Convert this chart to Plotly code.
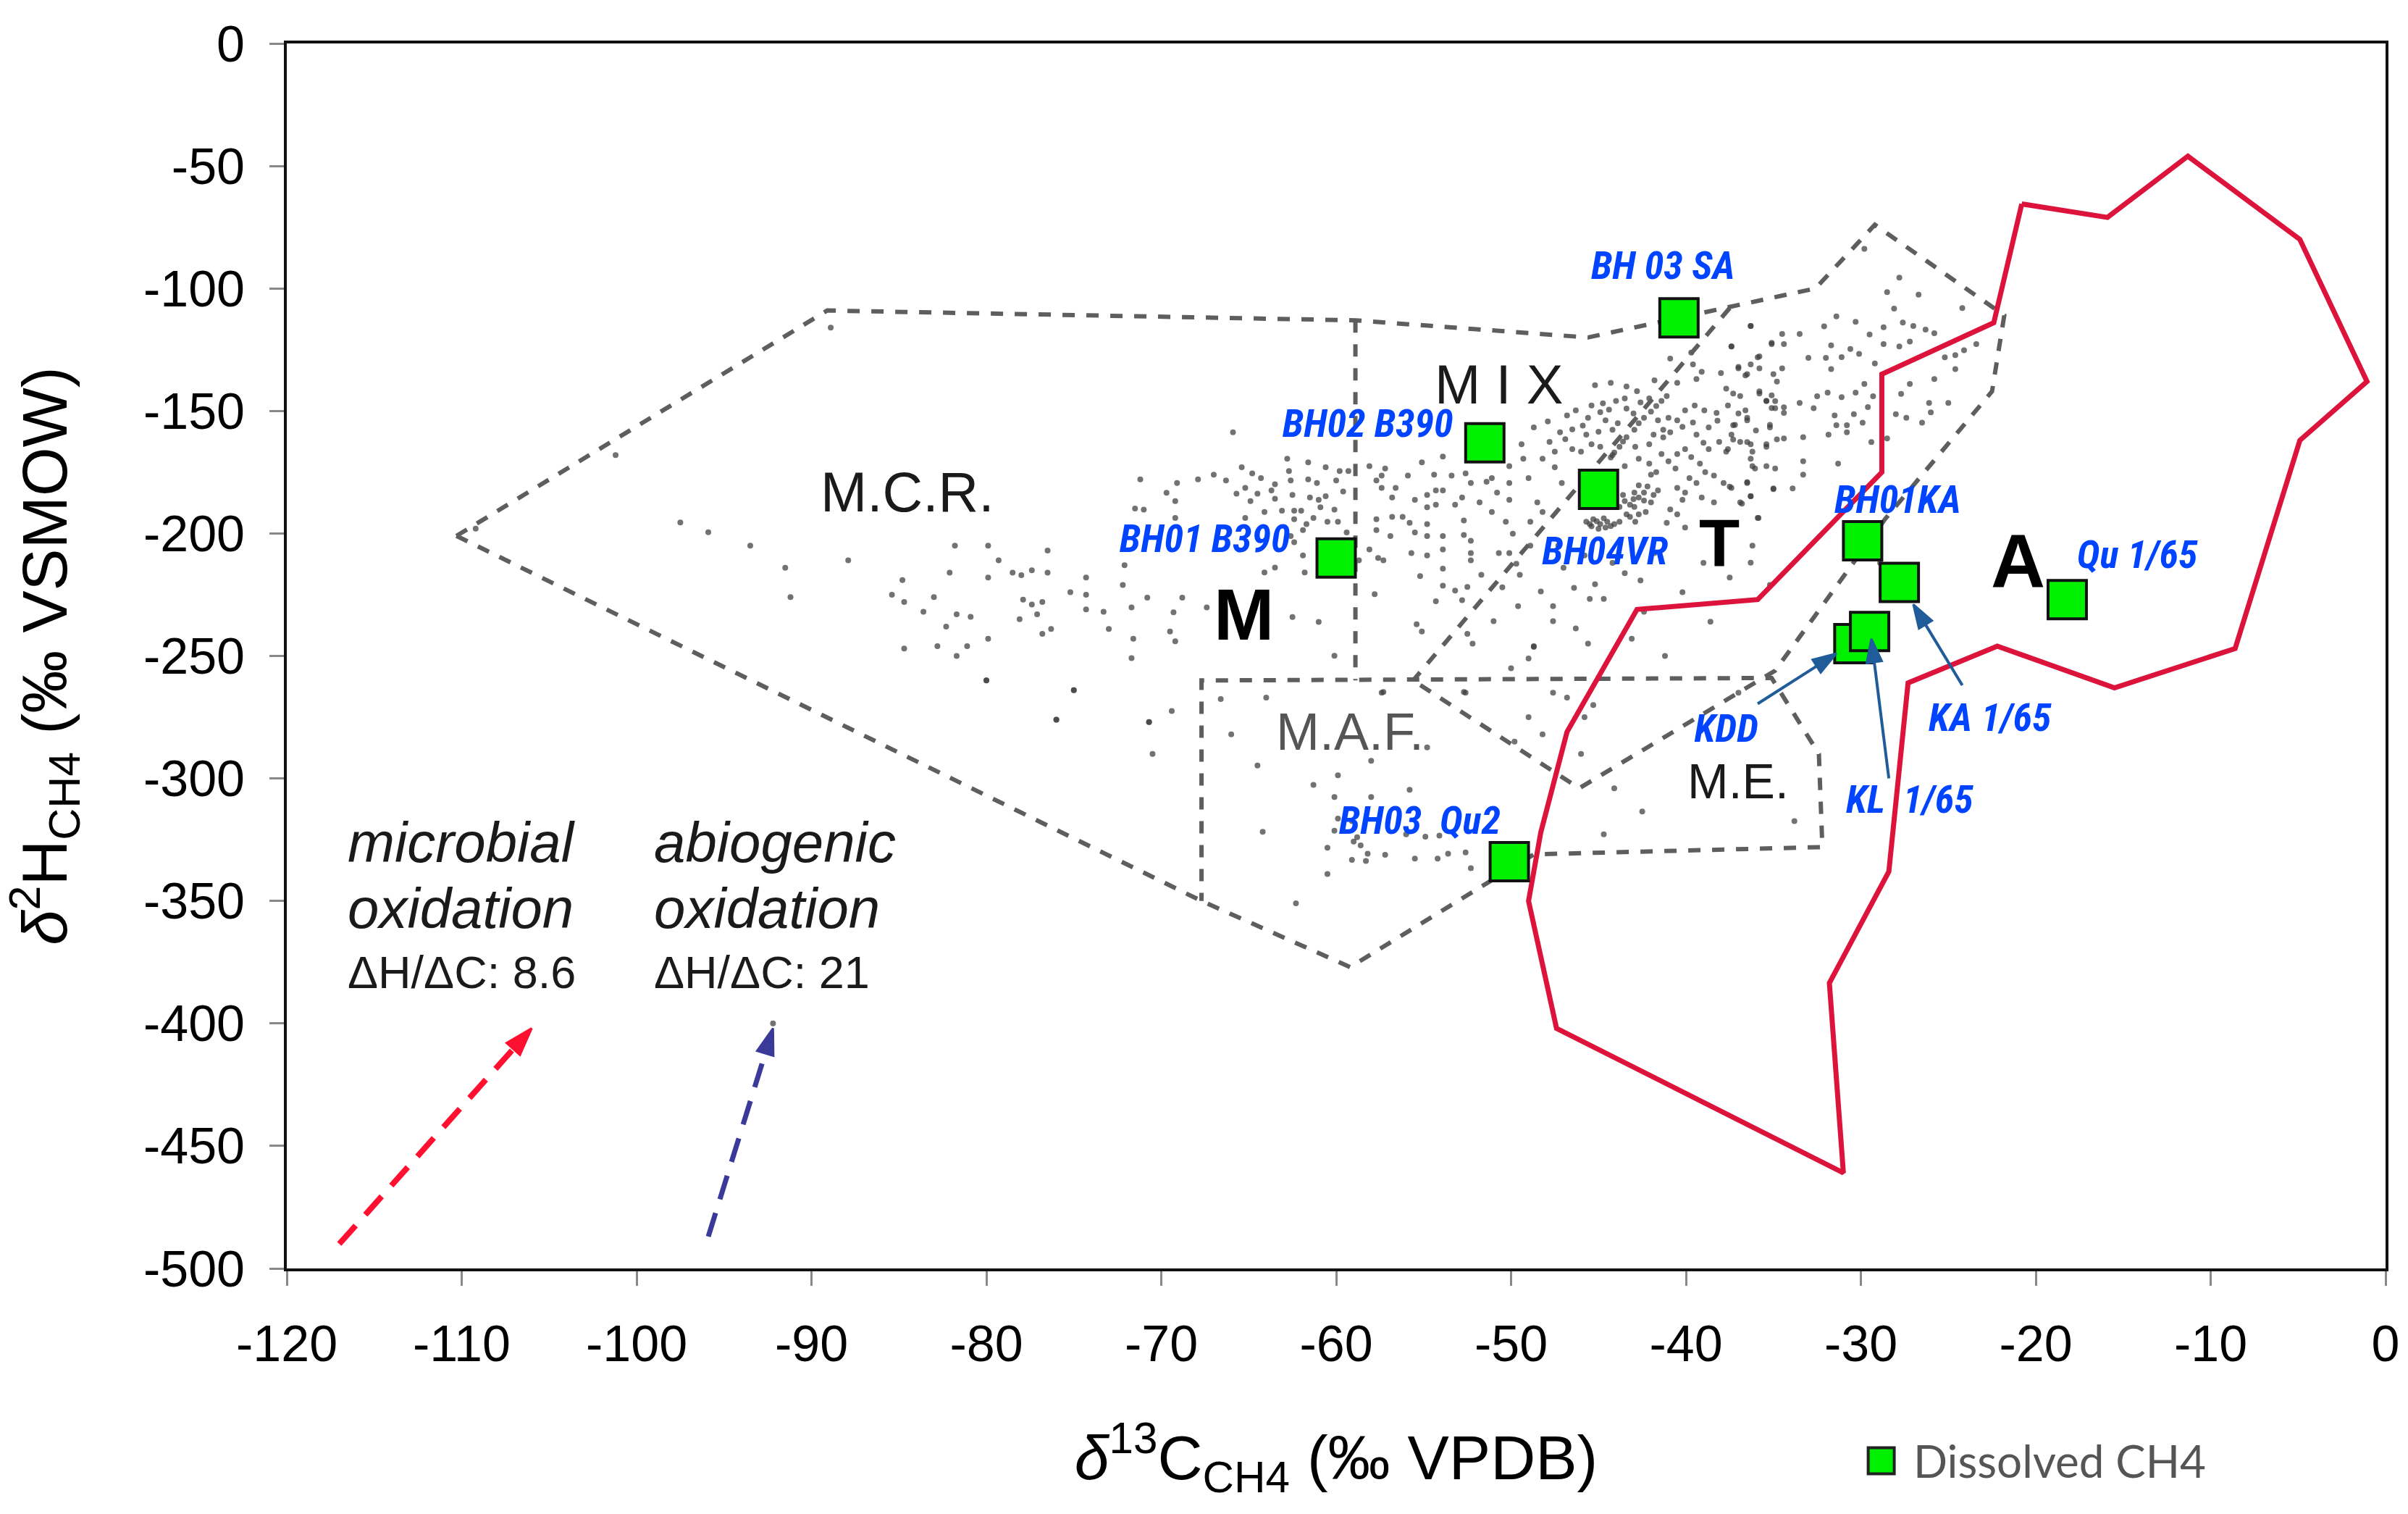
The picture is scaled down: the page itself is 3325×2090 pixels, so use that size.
import plotly.graph_objects as go

x_ticks = list(range(-120, 1, 10))
y_ticks = list(range(-500, 1, 50))

# dashed genetic fields
field_outer_x = [-110.3, -89.1, -58.9, -45.6, -32.6, -29.2, -21.8, -22.5, -28.6, -34.9, -46.1, -55.6]
field_outer_y = [-201, -109, -113, -120, -100, -74, -111, -142, -194, -256, -304, -260]
field_lower_x = [-110.3, -67.7, -59.2, -48.7, -32.2, -32.4, -35.1, -67.7, -67.7]
field_lower_y = [-201, -350, -377, -331, -328, -290, -259, -260, -350]
field_mid_x = [-58.9, -58.9]
field_mid_y = [-113, -260]
field_diag_x = [-37.5, -55.6]
field_diag_y = [-108, -260]

# abiotic outline
abiotic_x = [-20.8, -15.9, -11.3, -4.9, -1.06, -4.9, -8.6, -15.5, -22.2, -27.3, -28.4, -31.8, -31.0,
             -47.4, -49.0, -48.3, -46.8, -42.8, -35.9, -28.8, -28.8, -22.4, -20.8]
abiotic_y = [-65.5, -71, -46, -80, -138, -162, -247, -263, -246, -261, -338, -383.5, -461,
             -402, -350, -322, -281, -231, -227, -175, -135, -114, -65.5]

# dissolved CH4 samples
sample_names = ["BH 03 SA", "BH02 B390", "BH04VR", "BH01 B390", "BH03  Qu2", "BH01KA", "KA 1/65", "KDD", "KL  1/65", "Qu 1/65"]
sample_d13c = [-40.4, -51.5, -45.0, -60.0, -50.1, -29.9, -27.8, -30.4, -29.5, -18.2]
sample_d2h = [-112, -163, -182, -210, -334, -203, -220, -245, -240, -227]
label_x = [-41.3, -58.2, -44.6, -67.5, -55.2, -27.9, -22.6, -37.7, -27.2, -14.2]
label_y = [-90.5, -155, -207, -202, -317, -186, -275, -279.5, -308.5, -208.5]

# background literature samples
dots_west = [(-97.5,-195.5),(-95.9,-199.5),(-93.5,-205),(-91.5,-214),(-91.2,-226),(-87.9,-211),(-101.2,-168),(-88.9,-116),(-109.2,-198),
 (-81.8,-205),(-79.9,-205),(-76.5,-207),(-79.3,-211),(-82.1,-216),(-79.9,-218),(-84.8,-219),(-78.5,-216),(-78,-217),(-77.4,-215),(-76.5,-216),
 (-74.3,-218),(-72.1,-213),(-72.2,-221),(-75.2,-224),(-74.3,-225),(-85.4,-225),(-84.7,-228),(-83,-226),(-83.6,-232),(-77.9,-227),
 (-77.4,-229),(-76.8,-228),(-74.3,-231),(-73.3,-232),(-81.7,-233),(-80.9,-234),(-77.1,-233),(-78.1,-235),(-82.3,-238),(-73,-239),
 (-76.3,-239),(-76.8,-241),(-79.9,-243),(-84.7,-247),(-82.8,-246),(-81.1,-246),(-81.7,-250),(-80,-260),(-75,-264),(-76,-276),(-70.7,-277)]
dots_m = [(-65.9,-158.7),(-71.2,-177.9),(-69.7,-183.4),(-69.1,-179.4),(-67.9,-177.9),(-67,-176),(-66.3,-178.4),(-65.4,-173),(-64.8,-175.5),(-64.3,-177.4),(-62.8,-169.5),
 (-62.7,-174.5),(-62.6,-178.4),(-61.6,-171),(-60.6,-173),(-59.8,-174.5),(-59.3,-174.5),(-61.6,-177.9),(-61.1,-179.4),(-63.5,-179.9),(-63.7,-182.4),(-65.2,-181.4),(-65.7,-183.8),
 (-64.5,-183.8),(-64.9,-186.8),(-63.5,-185.8),(-62.5,-184.3),(-61.5,-185.3),(-61,-186.3),(-60.6,-184.8),(-60,-178.4),(-59.6,-182.9),(-60.9,-189.3),(-60.1,-190.3),(-63.1,-190.7),
 (-62.4,-190.7),(-62,-190.7),(-64.1,-191.2),(-62.4,-194.2),(-61.7,-196.2),(-61.3,-193.7),(-60.5,-195.2),(-59.9,-195.2),(-61.9,-198.6),(-62.6,-201.1),(-62.4,-203.6),(-65.2,-193.7),
 (-69.2,-193.7),(-69.2,-186.8),(-71.5,-189.8),(-71,-190.3),(-59.4,-199.6),(-61.9,-209),(-61.8,-215.9),(-63.5,-213.9),(-64.1,-215.9),(-70.8,-226.2),(-68.8,-226.2),(-71.7,-230.2),
 (-69.3,-232.2),(-67.4,-230.2),(-62.5,-234.1),(-61,-236.1),(-69.5,-240),(-69.2,-244),(-71.6,-243),(-71.7,-250.9),(-60.1,-249.9),
 (-58.1,-172.5),(-57.4,-176.4),(-57.7,-178.4),(-57.2,-173.5),(-57.4,-181.4),(-56.6,-181.4),(-55.9,-176.4),(-55.5,-186.3),(-56.8,-185.3),(-55.1,-171),(-54.4,-176),(-53.9,-168.6),
 (-53.4,-176.4),(-52.6,-175.5),(-52.3,-179.4),(-54.3,-182.4),(-53.9,-182.4),(-54.8,-184.3),(-54.8,-189.3),(-54.3,-188.3),(-52.8,-185.3),(-53.2,-188.3),(-51.8,-187.3),(-51.4,-178.9),
 (-57.7,-194.2),(-56.8,-193.2),(-56.2,-193.2),(-55.8,-195.7),(-57.7,-198.6),(-56.9,-201.1),(-55.5,-199.6),(-54.8,-196.2),(-54.8,-201.1),(-53.9,-201.1),(-52.7,-194.7),(-52.7,-200.6),
 (-52.3,-203),(-53.9,-206.5),(-52.3,-208),(-52.3,-211),(-55.7,-208),(-54.8,-209),(-58.1,-206.5),(-57.6,-210),(-57.3,-211),(-58.7,-211),(-53.9,-214.4),(-55.2,-217.4),(-51.7,-216.9),
 (-53.9,-221.3),(-53.2,-223.3),(-52.5,-221.8),(-57.8,-224.8),(-52.8,-227.2),(-54.3,-227.7),(-55.4,-237.1),(-55.1,-240),(-52.5,-241),(-52.2,-245),(-57.3,-264.7),(-52.7,-264.7)]
dots_ridge = [(-44.2,-168),(-43.8,-164.6),(-43.4,-160.7),(-42.95,-157.7),(-42.4,-152.8),(-42,-150.3),(-41.4,-145.9),(-41.1,-143.9),(-40.5,-138.5),(-39.6,-131),(-39.7,-126.2),(-39.1,-134),(-39.4,-137),
 (-44.1,-167),(-43.6,-162.5),(-42.7,-155),(-41.7,-148),(-44.3,-169)]
dots_core = [(-45.7,-195.2),(-45.3,-194.2),(-44.9,-196.2),(-44.5,-195.2),(-44.1,-196.2),(-45.4,-197.1),(-45,-198.1),(-44.6,-197.6),(-43.8,-195.2),(-43.4,-192.2),(-42.95,-189.2),(-43.2,-188.3),
 (-42.7,-185.3),(-43.6,-184.3),(-42.95,-183.3),(-42.4,-183.3),(-41.85,-184.3),(-41.6,-182.4),(-42.7,-180.4),(-42,-187.3),(-42.7,-192.2),(-42.3,-191.2),(-42.9,-195.2),(-43.8,-189.2),(-43.2,-193.2),
 (-45.1,-195),(-44.7,-193.8),(-44.3,-197),(-45.5,-196.2),(-43.5,-186.8),(-43,-186),(-42.4,-186.6),(-42.2,-180.8)]
dots_band = [(-46.8,-151.8),(-46.3,-149.8),(-45.6,-152.8),(-45.4,-147.8),(-44.75,-146.9),(-44,-145.9),(-43.5,-144.9),(-42.8,-141.9),(-42.1,-144.9),(-43.4,-140),(-44.6,-153.8),(-44.2,-157.7),(-45.7,-159.7),
 (-44.9,-164.6),(-45.4,-163.6),(-46,-166.6),(-46.5,-165.6),(-47.2,-158.7),(-47.8,-162.6),(-47.5,-166.6),(-48.2,-169.5),(-49.3,-169.5),(-49.4,-163.6),(-50.1,-172.5),(-51.1,-177.4),(-49,-177.4),(-50.1,-179.4),
 (-47.5,-173),(-47.1,-179.4),(-50.8,-183.3),(-50.1,-186.3),(-51.1,-191.2),(-48.5,-187.3),(-48.2,-191.2),(-48.9,-195.2),(-50.3,-195.2),(-49.9,-200.1),
 (-41.6,-153.8),(-41.85,-159.7),(-42.1,-163.6),(-41.3,-157.7),(-40.9,-158.7),(-41,-152.8),(-40.5,-153.8),(-40.05,-149.8),(-39.5,-147.8),(-38.95,-149.8),(-38.25,-150.8),(-39.6,-154.7),(-38.7,-156.7),(-39.4,-159.7),
 (-37.6,-147.8),(-37.3,-142.9),(-37.7,-140.9),(-36.9,-143.9),(-36.6,-149.8),(-36.5,-153.8),(-37.2,-155.7),(-37.4,-159.7),(-38.1,-162.6),(-38.7,-165.6),(-37.7,-166.6),(-36.9,-162.6),(-36.3,-163.6),(-35.4,-163.6),
 (-34.8,-161.6),(-36.05,-173.5),(-36.3,-169.5),(-35.2,-155.7),(-35.8,-142.9),(-35.4,-145.9),(-35.1,-148.8),(-34.8,-138),(-35.1,-122.2),(-35.9,-128.1),(-36.3,-115.3),(-37.4,-123.7),(-37,-132),(-36.5,-135),(-38,-134.5),
 (-40.9,-128.6),(-41.8,-137.5),(-44.3,-138.5),(-45.2,-139.5),(-48.7,-156.7),(-47.9,-154.3),
 (-42.9,-164.6),(-42.7,-169.5),(-42.1,-171.5),(-43.5,-172.5),(-42,-176),(-41.4,-167.6),(-41,-170.5),(-40.6,-173.5),(-40.05,-165.6),(-40.5,-167.6),(-39.8,-177.4),(-39.4,-179.4),(-40.5,-181.4),(-40.05,-183.3),(-40.2,-186.3),
 (-39.2,-171.5),(-39.1,-185.3),(-38.4,-176.4),(-37.85,-179.4),(-37.4,-181.4),(-38.4,-187.3),(-40.9,-190.2),(-40.5,-192.2),(-41.1,-195.7),(-40.05,-197.6),(-36.5,-179.4),(-36.3,-184.8),(-36.9,-187.3),(-35.85,-193.7),(-35,-181.9),
 (-36.3,-211.9),(-50.7,-208),(-50.1,-208),(-49.7,-212.4),(-48.9,-205),(-49.5,-216.9),(-41.3,-160.8),(-40.2,-156.5),(-39,-163),(-38.2,-154),(-37,-151),(-36,-158),(-41.7,-175),(-39.7,-168.8),(-38.9,-175),(-44.9,-150.5),(-44.4,-149.5),
 (-43.4,-149),(-43,-151),(-42.6,-146.5),(-45.9,-156),(-46.5,-157.5),(-46.9,-161.5),(-45,-158.5),(-43.9,-155)]
dots_east = [(-29.8,-83.8),(-27.8,-95.6),(-28.5,-101.5),(-26.7,-102.5),(-28.1,-108.2),(-24.2,-108),(-31.4,-111.4),(-30.3,-113.6),(-36.3,-115.3),(-32.1,-115.5),(-28.7,-115.8),(-27.6,-113.9),(-27,-115.3),(-26.3,-116.8),
 (-29.5,-118.8),(-33.5,-118.6),(-34.5,-118.6),(-34.4,-122.7),(-35.1,-122.7),(-37.4,-123.7),(-31.7,-123.2),(-28.7,-122.7),(-27.8,-123.7),(-27.2,-121.7),(-25.8,-118.3),(-30.6,-124.7),(-30.1,-126.7),(-31.1,-128),(-32,-128.3),
 (-33,-128.3),(-31.7,-132.9),(-29.2,-130.6),(-35.8,-127.7),(-36.3,-131),(-35.8,-132.6),(-37,-132.6),(-34.5,-132.6),(-35,-135),(-36.6,-135.5),(-24.6,-127.2),(-25.2,-128.1),(-24.1,-125.2),(-23.4,-122.7),(-24.6,-132.9),
 (-35.8,-142),(-35.4,-145.9),(-34.9,-148.9),(-34.4,-150.8),(-33.5,-146.7),(-32.7,-148.9),(-32.5,-144),(-31.9,-142.5),(-31.1,-144.4),(-30.3,-142.5),(-29.8,-139),(-29.3,-144),(-25.8,-137),(-27.2,-139),(-27.7,-143),(-26.1,-146.7),
 (-25,-146.7),(-29.6,-148.4),(-28,-151.3),(-27.4,-152.8),(-26,-150.6),(-26.5,-154.8),(-31.5,-151.8),(-31.4,-155.8),(-30.8,-155.8),(-30.8,-158.7),(-30.4,-151.3),(-29.9,-154.8),(-31.85,-159.7),(-29.4,-162.7),(-28.5,-161.2),
 (-33.3,-160.7),(-34.4,-161.2),(-35.4,-164.6),(-36.2,-166.6),(-36.5,-162.7),(-37.3,-155.8),(-36.5,-152.8),(-35.2,-156.7),(-37.3,-161.7),(-37.6,-165.6),(-36.2,-172.5),(-34.9,-173.5),(-35.4,-172.5),(-33.3,-170.5),(-33.3,-176),
 (-31.3,-171.5),(-36.5,-179),(-35,-181.6),(-33.9,-181.6),(-36.3,-184.8),(-36.8,-187.8),(-35.9,-193.7),(-37.5,-180.9),(-34.9,-146),(-34.4,-148.5),(-35.1,-143.6),(-29,-196),(-28.9,-212)]
dots_south = [(-50.5,-222),(-49.6,-229.7),(-48.3,-223.7),(-47.6,-229.7),(-48.7,-246.3),(-47.6,-235.8),(-46.4,-222.2),(-46.3,-238.8),(-45.5,-226.7),(-45.2,-220.7),(-44.7,-226.7),(-42.6,-219.2),(-43.5,-216.2),
 (-47.3,-205),(-44.2,-212),(-41.8,-208),(-42.4,-232),(-40.2,-224),(-39,-212),(-37.5,-218),(-38.6,-236),(-36.2,-205),(-45.6,-245),(-43.1,-243),(-41.2,-250),(-35.2,-221),(-51,-235.8),(-47,-214),(-45.8,-209)]
dots_maf = [(-80,-260),(-75,-264),(-76,-276),(-69.4,-272.5),(-70.7,-277),(-66.6,-267.6),(-64,-267),(-57.4,-265),(-52.6,-265),(-64.5,-294.7),(-58,-292.8),(-59.9,-298.7),(-61.3,-302.6),
 (-55.8,-304.6),(-60.1,-307.6),(-58,-307.6),(-59.4,-312.5),(-59.9,-316.4),(-59.1,-317.4),(-64.2,-321.8),(-60.1,-321.3),(-58.8,-324),(-58.6,-327.3),(-59,-325.8),(-60.5,-328.3),(-58.2,-330.7),
 (-57.2,-331.2),(-58.3,-333.7),(-59.1,-333.2),(-55.5,-332.7),(-54.2,-332.7),(-53.6,-330.7),(-52.6,-330.2),(-52.3,-336.6),(-60.5,-339),(-62.3,-351),(-54.9,-323.8),(-56,-322.8),(-54.1,-323.3),
 (-54.8,-287.3),(-49,-275),(-48.2,-282),(-49.8,-285),(-47.6,-265),(-46.8,-267),(-45.3,-270),(-45.8,-275),(-46,-290),(-44.1,-304),(-42.5,-313.5),(-44.7,-322.8),(-50,-255),(-48.7,-246),(-49,-251),
 (-33.8,-317.4),(-37,-265),(-92.2,-400),(-70.5,-290),(-66,-282)]
dots_all = dots_west + dots_m + dots_ridge + dots_core + dots_band + dots_east + dots_south + dots_maf
dots_x = [p[0] for p in dots_all]
dots_y = [p[1] for p in dots_all]

AX = "Liberation Sans"
fig = go.Figure()
fig.add_trace(go.Scatter(x=dots_x, y=dots_y, mode="markers", showlegend=False,
                         marker=dict(size=8, color="rgba(60,60,60,0.72)", line=dict(width=0))))
DASH = dict(color="#5e5e5e", width=6, dash="17px,16px")
for fx, fy in [(field_outer_x, field_outer_y), (field_lower_x, field_lower_y), (field_mid_x, field_mid_y), (field_diag_x, field_diag_y)]:
    fig.add_trace(go.Scatter(x=fx, y=fy, mode="lines", line=DASH, showlegend=False))
fig.add_trace(go.Scatter(x=abiotic_x, y=abiotic_y, mode="lines", line=dict(color="#dc143c", width=7), showlegend=False))
fig.add_trace(go.Scatter(x=sample_d13c, y=sample_d2h, mode="markers", name="Dissolved CH4", showlegend=False,
                         marker=dict(symbol="square", size=53, color="#00f000", line=dict(color="#111111", width=4))))

def arrow(xs, ys, color, width, head, dash="solid"):
    fig.add_trace(go.Scatter(x=xs, y=ys, mode="lines+markers", showlegend=False,
                             line=dict(color=color, width=width, dash=dash),
                             marker=dict(symbol="arrow", angleref="previous", size=[0, head], color=color,
                                         opacity=1, line=dict(width=3, color=color))))

arrow([-35.9, -31.4], [-269.5, -249], "#1f5c99", 4, 34)
arrow([-24.2, -27.0], [-262, -229], "#1f5c99", 4, 34)
arrow([-28.4, -29.4], [-300, -243], "#1f5c99", 4, 34)
arrow([-117.0, -106.0], [-490, -402], "#ff1030", 8, 40, "34px,20px")
arrow([-95.9, -92.2], [-487, -402], "#3a3a9a", 7, 38, "34px,20px")

def txt(x, y, s, size, color="#1a1a1a", family=AX, xanchor="center"):
    fig.add_annotation(x=x, y=y, xref="x", yref="y", text=s, showarrow=False, xanchor=xanchor, yanchor="middle",
                       font=dict(size=size, color=color, family=family))

for n, lx, ly in zip(sample_names, label_x, label_y):
    txt(lx, ly, "<b><i>%s</i></b>" % n, 54, "#0044ff", "Roboto")

txt(-84.5, -183, "M.C.R.", 77)
txt(-50.7, -139, "M I X", 76)
txt(-59.2, -281, "M.A.F.", 72, "#555555")
txt(-37.0, -301, "M.E.", 68)
txt(-65.3, -233, "<b>M</b>", 100, "#000000")
txt(-38.1, -204, "<b>T</b>", 92, "#000000")
txt(-21, -211, "<b>A</b>", 104, "#000000")

txt(-116.6, -326, "<i>microbial</i>", 78, xanchor="left")
txt(-116.6, -353, "<i>oxidation</i>", 78, xanchor="left")
txt(-116.6, -379, "ΔH/ΔC: 8.6", 63, xanchor="left")
txt(-99.1, -326, "<i>abiogenic</i>", 78, xanchor="left")
txt(-99.1, -353, "<i>oxidation</i>", 78, xanchor="left")
txt(-99.1, -379, "ΔH/ΔC: 21", 63, xanchor="left")

# legend key
fig.add_shape(type="rect", xref="paper", yref="paper", xsizemode="pixel", ysizemode="pixel",
              xanchor=0.7597, yanchor=-0.157, x0=-18, x1=18, y0=-18, y1=18,
              fillcolor="#00f000", line=dict(color="#222222", width=4))
fig.add_annotation(x=0.7743, y=-0.157, xref="paper", yref="paper", text="Dissolved CH4", showarrow=False,
                   xanchor="left", yanchor="middle", font=dict(size=62, color="#555555", family="Lato"))

axis_common = dict(showgrid=False, zeroline=False, showline=True, mirror=True, linecolor="#111111", linewidth=4,
                   ticks="outside", ticklen=20, tickwidth=3, tickcolor="#888888", ticklabelstandoff=20,
                   tickfont=dict(size=70, color="#000000", family=AX))
fig.update_layout(
    width=3325, height=2090, autosize=False,
    margin=dict(l=396, r=28, t=60, b=339, pad=0),
    paper_bgcolor="white", plot_bgcolor="white", showlegend=False,
    xaxis=dict(range=[-120, 0], tickvals=x_ticks, ticktext=[str(v) for v in x_ticks],
               title=dict(text="<i>δ</i><sup>13</sup>C<sub>CH4</sub> (‰ VPDB)", standoff=90,
                          font=dict(size=86, color="#000000", family=AX)), **axis_common),
    yaxis=dict(range=[-500, 0], tickvals=y_ticks, ticktext=[str(v) for v in y_ticks],
               title=dict(text="<i>δ</i><sup>2</sup>H<sub>CH4</sub> (‰ VSMOW)", standoff=80,
                          font=dict(size=87, color="#000000", family=AX)), **axis_common),
)
css = "var s=document.createElement('style');s.textContent=\".annotation-text[style*='rgb(0, 68, 255)']{font-stretch:75%;}\";document.head.appendChild(s);document.body.style.margin='0';"
fig.write_html("out.html", post_script=css, config=dict(displayModeBar=False))
